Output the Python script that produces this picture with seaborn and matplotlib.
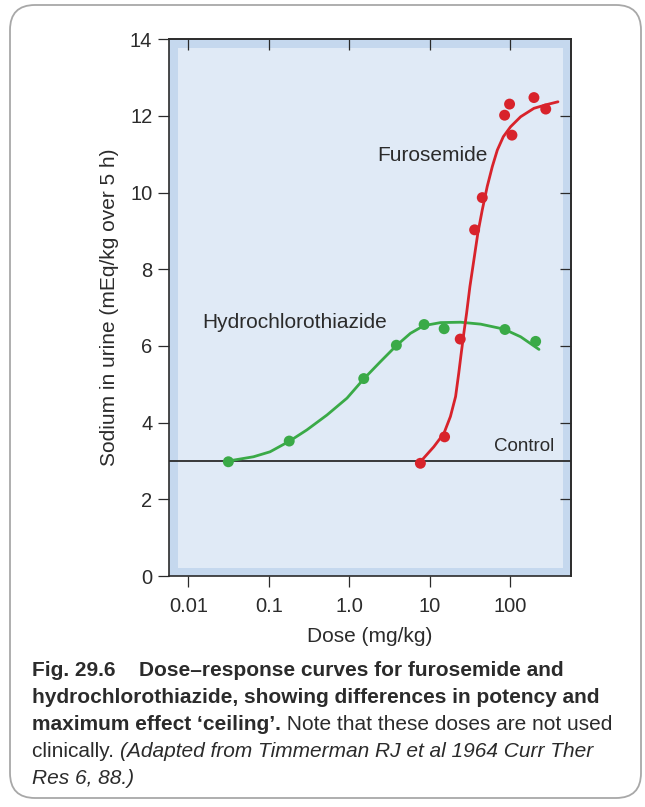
import matplotlib
matplotlib.use("Agg")
import matplotlib.pyplot as plt
import seaborn as sns
import pandas as pd
from matplotlib.patches import Rectangle, FancyBboxPatch
from matplotlib.ticker import NullLocator, FixedLocator, FixedFormatter

sns.set_theme(style="ticks")
plt.rcParams['font.family'] = ['Liberation Sans', 'DejaVu Sans']

# ---------------- data ----------------
hct_dose = [0.0315, 0.18, 1.52, 3.87, 8.57, 15.2, 86.7, 209]
hct_na = [2.98, 3.52, 5.15, 6.02, 6.56, 6.45, 6.43, 6.12]
furo_dose = [7.7, 15.4, 24.1, 36.4, 45.3, 85.9, 99, 106, 199, 279]
furo_na = [2.94, 3.63, 6.18, 9.03, 9.87, 12.02, 12.31, 11.5, 12.48, 12.18]

hct_curve_dose = [0.0315, 0.0646, 0.104, 0.182, 0.298, 0.531, 0.942, 1.52, 2.45, 3.87,
                  5.79, 8.48, 13.7, 24.3, 43.2, 84.2, 136, 230]
hct_curve_na = [3.00, 3.11, 3.24, 3.52, 3.81, 4.20, 4.64, 5.14, 5.59, 6.01,
                6.33, 6.53, 6.61, 6.62, 6.57, 6.44, 6.24, 5.91]
furo_curve_dose = [7.71, 11.3, 15.1, 18.2, 21.1, 23.1, 24.8, 26.7, 28.9, 31.8, 35.6,
                   39.9, 45.3, 52.2, 60.4, 69.7, 82.8, 102, 136, 199, 279, 396]
furo_curve_na = [2.98, 3.37, 3.72, 4.16, 4.68, 5.29, 5.81, 6.33, 6.85, 7.55, 8.24,
                 8.94, 9.55, 10.16, 10.68, 11.11, 11.46, 11.72, 11.98, 12.20, 12.29, 12.37]

control_level = 3.0
x_ticks = [0.01, 0.1, 1, 10, 100]
x_tick_labels = ["0.01", "0.1", "1.0", "10", "100"]
y_ticks = [0, 2, 4, 6, 8, 10, 12, 14]
y_right_ticks = [2, 4, 6, 8, 10, 12]

GREEN = "#3aaa47"
RED = "#d8232b"
DARK = "#2b2b2b"
BAND = "#c5d8ee"
INNER = "#e0eaf6"

pts = pd.DataFrame({
    "dose": hct_dose + furo_dose,
    "na": hct_na + furo_na,
    "drug": ["Hydrochlorothiazide"] * len(hct_dose) + ["Furosemide"] * len(furo_dose),
})
curves = pd.DataFrame({
    "dose": hct_curve_dose + furo_curve_dose,
    "na": hct_curve_na + furo_curve_na,
    "drug": ["Hydrochlorothiazide"] * len(hct_curve_dose) + ["Furosemide"] * len(furo_curve_dose),
})
palette = {"Hydrochlorothiazide": GREEN, "Furosemide": RED}

fig = plt.figure(figsize=(6.45, 8.07), dpi=100)
fig.patch.set_facecolor("white")
ax = fig.add_axes([169 / 645, 1 - 576 / 807, (570.7 - 169) / 645, (576 - 39.3) / 807])
ax.set_facecolor(BAND)
ax.add_patch(Rectangle((0.0224, 0.0155), 0.980 - 0.0224, 0.9838 - 0.0155,
                       transform=ax.transAxes, facecolor=INNER, edgecolor="none", zorder=0))

ax.axhline(control_level, color=DARK, lw=1.3, zorder=1)

sns.lineplot(data=curves, x="dose", y="na", hue="drug", palette=palette, sort=False,
             estimator=None, lw=2.0, legend=False, ax=ax, zorder=2)
sns.scatterplot(data=pts, x="dose", y="na", hue="drug", palette=palette, s=62,
                edgecolor="none", legend=False, ax=ax, zorder=3)

ax.set_xscale("log")
ax.set_xlim(10 ** -2.24, 10 ** 2.756)
ax.set_ylim(0, 14)
ax.xaxis.set_major_locator(FixedLocator(x_ticks))
ax.xaxis.set_major_formatter(FixedFormatter(x_tick_labels))
ax.xaxis.set_minor_locator(NullLocator())
ax.set_yticks(y_ticks)

for s in ax.spines.values():
    s.set_visible(True)
    s.set_color(DARK)
    s.set_linewidth(1.2)

ax.tick_params(axis="both", direction="out", length=8, width=0.9, color=DARK,
               labelsize=14.5, labelcolor=DARK)
ax.tick_params(axis="x", pad=7)
ax.tick_params(axis="y", pad=4)

top = ax.secondary_xaxis("top")
top.set_xticks(x_ticks)
top.xaxis.set_minor_locator(NullLocator())
top.tick_params(direction="in", length=8, width=0.9, color=DARK, labeltop=False)
top.spines["top"].set_color(DARK)
top.spines["top"].set_linewidth(1.2)
right = ax.secondary_yaxis("right")
right.set_yticks(y_right_ticks)
right.tick_params(direction="in", length=8, width=0.9, color=DARK, labelright=False)
right.spines["right"].set_color(DARK)
right.spines["right"].set_linewidth(1.2)

ax.set_xlabel("Dose (mg/kg)", fontsize=15, color=DARK, labelpad=8)
ax.set_ylabel("Sodium in urine (mEq/kg over 5 h)", fontsize=15, color=DARK, labelpad=8)

ax.text(2.23, 10.98, "Furosemide", fontsize=15, color=DARK, ha="left", va="center")
ax.text(0.0147, 6.62, "Hydrochlorothiazide", fontsize=15, color=DARK, ha="left", va="center")
ax.text(351, 3.15, "Control", fontsize=13.5, color=DARK, ha="right", va="bottom")

# figure border
fig.add_artist(FancyBboxPatch((10, 9), 631, 793, boxstyle="round,pad=0,rounding_size=25",
                              transform=None, facecolor="none", edgecolor="#a8a8a8", lw=1.3))

# caption
cx = 32 / 645
fs = 15


def fy(b):
    return 1 - b / 807


t1 = fig.text(cx, fy(676), "Fig. 29.6", fontsize=fs, weight="bold", color=DARK, va="baseline")
ax.annotate("Dose\u2013response curves for furosemide and", xy=(1, 0), xycoords=t1,
            xytext=(17, 0), textcoords="offset points", fontsize=fs, weight="bold",
            color=DARK, va="bottom", ha="left", annotation_clip=False)
fig.text(cx, fy(703), "hydrochlorothiazide, showing differences in potency and", fontsize=fs,
         weight="bold", color=DARK, va="baseline")
t3 = fig.text(cx, fy(730), "maximum effect \u2018ceiling\u2019.", fontsize=fs, weight="bold",
              color=DARK, va="baseline")
ax.annotate(" Note that these doses are not used", xy=(1, 0), xycoords=t3, fontsize=fs,
            color=DARK, va="bottom", ha="left", annotation_clip=False)
t4 = fig.text(cx, fy(757), "clinically. ", fontsize=fs, color=DARK, va="baseline")
ax.annotate("(Adapted from Timmerman RJ et al 1964 Curr Ther", xy=(1, 0), xycoords=t4,
            fontsize=fs, style="italic", color=DARK, va="bottom", ha="left", annotation_clip=False)
fig.text(cx, fy(784), "Res 6, 88.)", fontsize=fs, style="italic", color=DARK, va="baseline")

fig.savefig("out.png", dpi=100)
